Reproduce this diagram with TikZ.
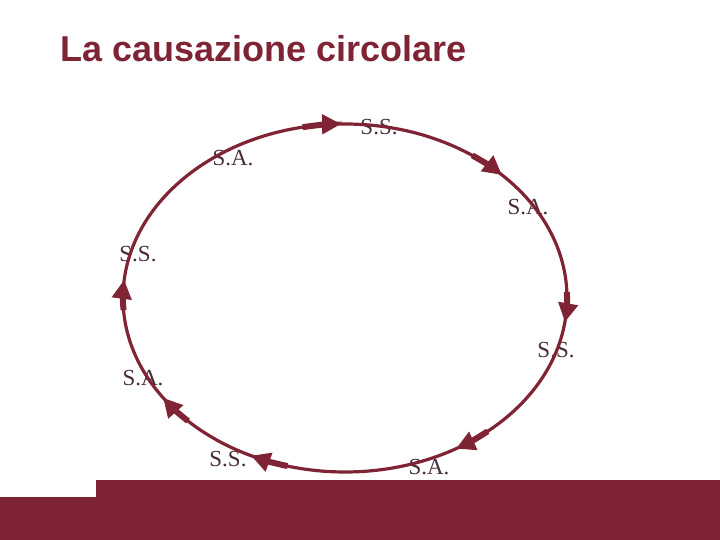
\documentclass[tikz,border=0pt]{standalone}
\usepackage{fontspec}
\setmainfont{Liberation Serif}
\newfontfamily\titlefont{Liberation Sans}
\usetikzlibrary{arrows.meta}
\definecolor{wine}{RGB}{127,36,52}
\definecolor{lbl}{RGB}{72,44,60}
\begin{document}
\begin{tikzpicture}[x=1pt,y=1pt,
  lab/.style={inner sep=0pt, text=lbl, font=\fontsize{23}{23}\selectfont},
  ring/.style={draw=wine, line width=3.2pt},
  arr/.style={draw=wine, line width=6pt, -{Triangle[length=19pt,width=19pt]}}]
\useasboundingbox (0,0) rectangle (720,540);
% title
\node[anchor=base west, inner sep=0pt, text=wine, font=\titlefont\bfseries\fontsize{36}{36}\selectfont] (title) at (60.5,478) {La causazione circolare};
% bottom bar
\fill[wine] (0,0) rectangle (720,43);
\fill[wine] (96,42) rectangle (720,60);
% labels
\node[lab] (ss1) at (379,413) {S.S.};
\node[lab] (sa1) at (233,382) {S.A.};
\node[lab] (sa2) at (528,333) {S.A.};
\node[lab] (ss2) at (138,286) {S.S.};
\node[lab] (ss3) at (556,190) {S.S.};
\node[lab] (sa3) at (143,162) {S.A.};
\node[lab] (ss4) at (228,81) {S.S.};
\node[lab] (sa4) at (429,73) {S.A.};
% cycle
\coordinate (C) at (345,242);
\draw[ring] (C) ellipse [x radius=222pt, y radius=174pt];
\foreach \t in {91,45,-8,-60,-115,-145,174} {
  \draw[arr] ({345+222*cos(\t+10)},{242+174*sin(\t+10)}) arc[start angle=\t+10, end angle=\t, x radius=222pt, y radius=174pt];
}
\end{tikzpicture}
\end{document}
